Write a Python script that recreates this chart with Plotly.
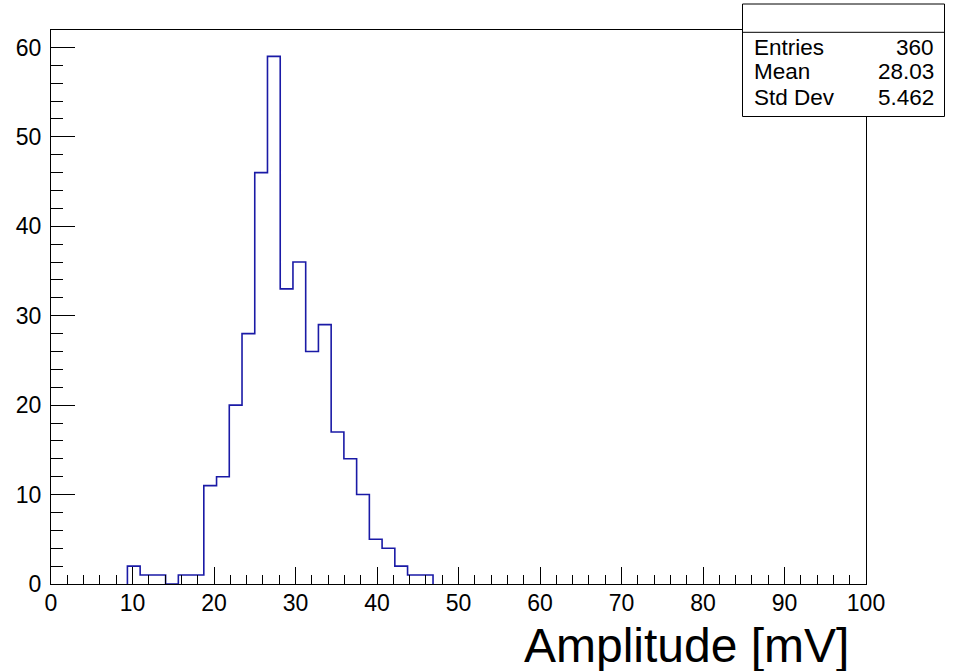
import plotly.graph_objects as go

# ---- data ----
bin_width = 100 / 64          # histogram has 64 bins over 0..100
first_edge = 9.375            # lower edge of first non-empty bin
counts = [2, 1, 1, 0, 1, 1, 11, 12, 20, 28, 46, 59, 33, 36, 26, 29, 17, 14, 10, 5, 4, 2, 1, 1]
stats_labels = ["Entries", "Mean", "Std Dev"]
stats_values = ["360", "28.03", "5.462"]
x_title = "Amplitude [mV]"

edges = [first_edge + i * bin_width for i in range(len(counts) + 1)]
xs = [edges[0]] + edges[:-1] + [edges[-1]]
ys = [0] + counts + [0]

FONT = "Liberation Sans, Arial, sans-serif"

fig = go.Figure()
fig.add_trace(go.Scatter(
    x=xs, y=ys, mode="lines", line=dict(shape="hv", color="#1a1aa6", width=1.6),
    hoverinfo="skip", showlegend=False))

L, R, T, B = 51, 87, 30, 87
W, H = 953, 671
pw, ph = W - L - R, H - T - B

def px(xp):
    return (xp - L) / pw

def py(yp):
    return (H - B - yp) / ph

TICK_SIZE = 23

fig.update_layout(
    width=W, height=H, margin=dict(l=L, r=R, t=T, b=B),
    paper_bgcolor="white", plot_bgcolor="white",
    font=dict(family=FONT, color="black", size=TICK_SIZE),
    showlegend=False,
    xaxis=dict(range=[0, 100], tickmode="linear", tick0=0, dtick=10,
               ticks="inside", ticklen=17, tickcolor="black", tickwidth=1,
               minor=dict(dtick=2, ticks="inside", ticklen=9, tickcolor="black", tickwidth=1),
               showgrid=False, zeroline=False, showline=True, linecolor="black",
               linewidth=1, mirror=True, ticklabelstandoff=-2,
               tickfont=dict(size=TICK_SIZE)),
    yaxis=dict(range=[0, 61.95], tickmode="linear", tick0=0, dtick=10,
               ticks="inside", ticklen=24, tickcolor="black", tickwidth=1,
               minor=dict(dtick=2, ticks="inside", ticklen=12, tickcolor="black", tickwidth=1),
               showgrid=False, zeroline=False, showline=True, linecolor="black",
               linewidth=1, mirror=True, ticklabelstandoff=4,
               tickfont=dict(size=TICK_SIZE)),
)

# stats box
box_l, box_r, box_t, box_b, box_div = 742.5, 944.5, 4, 116.5, 32.3
fig.add_shape(type="rect", xref="paper", yref="paper",
              x0=px(box_l), x1=px(box_r), y0=py(box_b), y1=py(box_t),
              line=dict(color="black", width=1), fillcolor="white", layer="above")
fig.add_shape(type="line", xref="paper", yref="paper",
              x0=px(box_l), x1=px(box_r), y0=py(box_div), y1=py(box_div),
              line=dict(color="black", width=1), layer="above")
row_y = [47, 72, 97]
for lab, val, yy in zip(stats_labels, stats_values, row_y):
    fig.add_annotation(xref="paper", yref="paper", x=px(752), y=py(yy),
                       text=lab, showarrow=False, xanchor="left", yanchor="middle",
                       font=dict(size=22.5, family=FONT))
    fig.add_annotation(xref="paper", yref="paper", x=px(936), y=py(yy),
                       text=val, showarrow=False, xanchor="right", yanchor="middle",
                       font=dict(size=22.5, family=FONT))

# axis title (ROOT style, right-aligned)
fig.add_annotation(xref="paper", yref="paper", x=px(851), y=py(645),
                   text=x_title, showarrow=False, xanchor="right", yanchor="middle",
                   font=dict(size=48, family=FONT))

fig.write_html("out.html")
